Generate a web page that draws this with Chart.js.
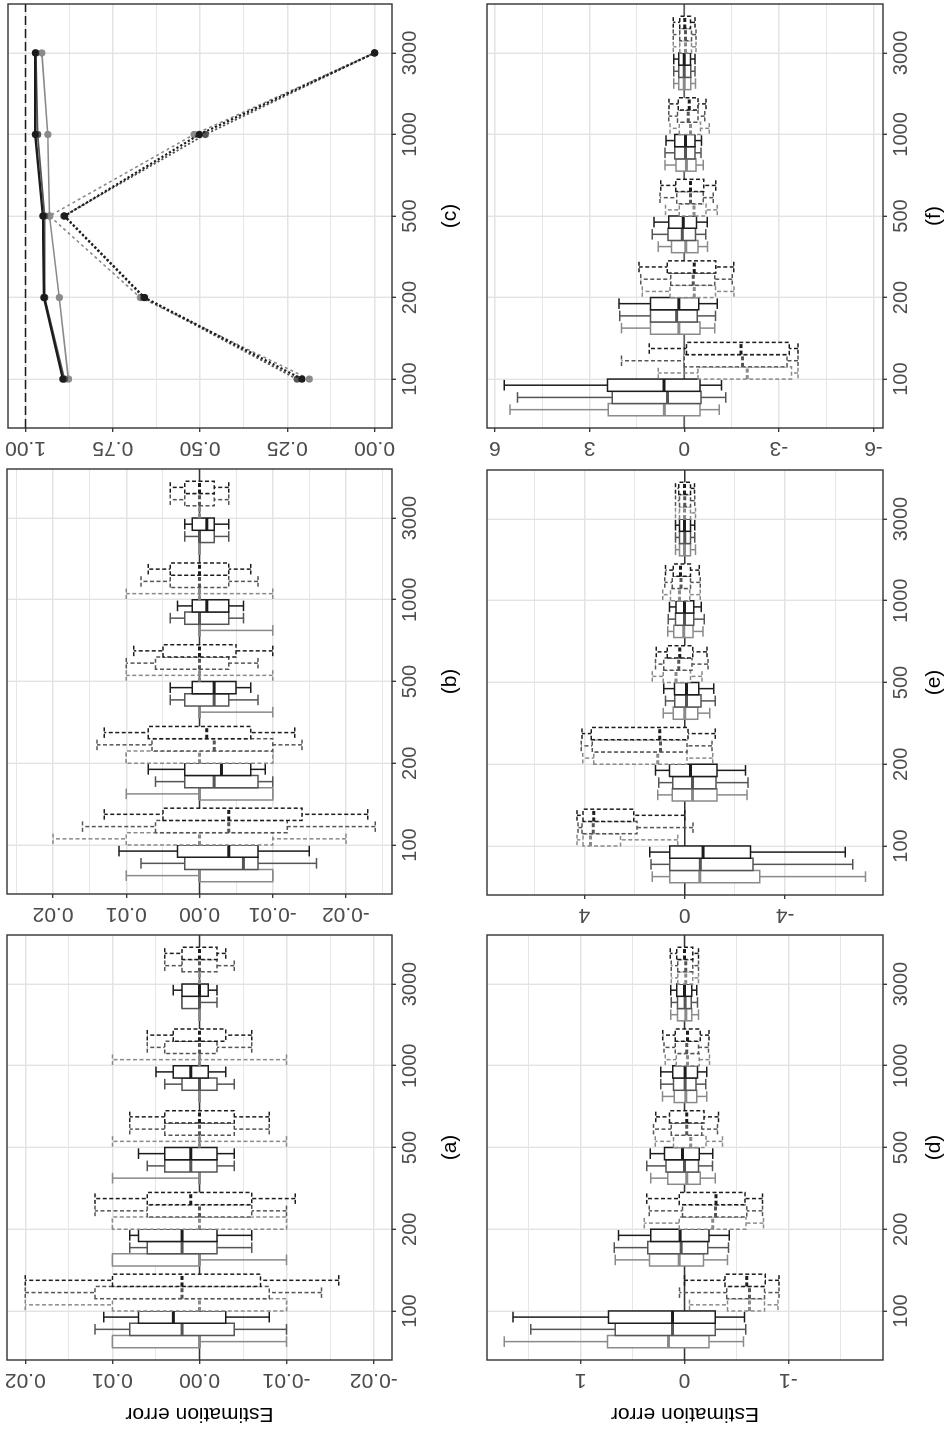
<!DOCTYPE html>
<html>
<head>
<meta charset="utf-8">
<script src="https://cdn.jsdelivr.net/npm/chart.js@4.4.1/dist/chart.umd.min.js"></script>
<style>
  html, body { margin: 0; padding: 0; background: #ffffff; overflow: hidden; }
  #fig {
    position: absolute; left: 0; top: 0; width: 1433px; height: 948px; background: #ffffff;
    transform-origin: 0 0; transform: translate(0, 1433px) rotate(-90deg);
  }
  .cell { position: absolute; }
  canvas { display: block; }
</style>
</head>
<body>
<div id="fig">
  <div class="cell" style="left:0px;top:0px"><canvas id="pa" width="500" height="475"></canvas></div>
  <div class="cell" style="left:500px;top:0px"><canvas id="pb" width="466" height="475"></canvas></div>
  <div class="cell" style="left:966px;top:0px"><canvas id="pc" width="467" height="475"></canvas></div>
  <div class="cell" style="left:0px;top:475px"><canvas id="pd" width="500" height="473"></canvas></div>
  <div class="cell" style="left:500px;top:475px"><canvas id="pe" width="466" height="473"></canvas></div>
  <div class="cell" style="left:966px;top:475px"><canvas id="pf" width="467" height="473"></canvas></div>
</div>
<script>
// ---------- sample sizes ----------
const categories = ['100', '200', '500', '1000', '3000'];

// ---------- box statistics: [lower whisker, Q1, median, Q3, upper whisker] per sample size ----------
// panel (a)
const aSolidLight = [[-0.010, 0, 0, 0.010, 0.010], [-0.010, 0, 0, 0.010, 0.010], [0, 0, 0, 0, 0.010], [0, 0, 0, 0, 0], [0, 0, 0, 0, 0]];
const aSolidMid   = [[-0.010, -0.004, 0.002, 0.008, 0.012], [-0.006, -0.002, 0.002, 0.006, 0.008], [-0.004, -0.002, 0.001, 0.004, 0.006], [-0.004, -0.002, 0, 0.002, 0.004], [-0.002, 0, 0, 0.002, 0.002]];
const aSolidBlack = [[-0.008, -0.003, 0.003, 0.007, 0.011], [-0.006, -0.002, 0.002, 0.007, 0.008], [-0.004, -0.002, 0.001, 0.004, 0.007], [-0.003, -0.001, 0.001, 0.003, 0.005], [-0.002, -0.001, 0, 0.002, 0.003]];
const aDashLight  = [[-0.010, -0.010, 0, 0.010, 0.020], [-0.010, -0.010, 0, 0.010, 0.010], [-0.010, 0, 0, 0, 0.010], [-0.010, 0, 0, 0, 0.010], [0, 0, 0, 0, 0]];
const aDashMid    = [[-0.014, -0.008, 0.002, 0.012, 0.020], [-0.010, -0.006, 0, 0.006, 0.012], [-0.008, -0.004, 0, 0.004, 0.008], [-0.006, -0.002, 0, 0.004, 0.006], [-0.004, -0.002, 0, 0.002, 0.004]];
const aDashBlack  = [[-0.016, -0.007, 0.002, 0.010, 0.020], [-0.011, -0.006, 0.001, 0.006, 0.012], [-0.008, -0.004, 0, 0.004, 0.008], [-0.006, -0.003, 0, 0.003, 0.006], [-0.003, -0.002, 0, 0.002, 0.004]];
// panel (b)
const bSolidLight = [[-0.010, -0.010, 0, 0, 0.010], [-0.010, -0.010, 0, 0, 0.010], [-0.010, 0, 0, 0, 0], [-0.010, 0, 0, 0, 0], [0, 0, 0, 0, 0]];
const bSolidMid   = [[-0.016, -0.008, -0.006, 0.002, 0.008], [-0.010, -0.008, -0.002, 0.002, 0.006], [-0.008, -0.004, -0.002, 0.002, 0.004], [-0.006, -0.004, 0, 0.002, 0.004], [-0.004, -0.002, 0, 0, 0.002]];
const bSolidBlack = [[-0.015, -0.008, -0.004, 0.003, 0.011], [-0.009, -0.007, -0.003, 0.002, 0.007], [-0.007, -0.005, -0.002, 0.001, 0.004], [-0.006, -0.004, -0.001, 0.001, 0.003], [-0.004, -0.002, -0.001, 0.001, 0.002]];
const bDashLight  = [[-0.020, -0.010, 0, 0.010, 0.020], [-0.010, -0.010, 0, 0.010, 0.010], [-0.010, 0, 0, 0, 0.010], [-0.010, 0, 0, 0, 0.010], [0, 0, 0, 0, 0]];
const bDashMid    = [[-0.024, -0.012, -0.004, 0.006, 0.016], [-0.014, -0.010, -0.002, 0.0065, 0.014], [-0.008, -0.004, 0, 0.006, 0.010], [-0.008, -0.004, 0, 0.004, 0.008], [-0.004, -0.002, 0, 0.002, 0.004]];
const bDashBlack  = [[-0.023, -0.014, -0.004, 0.005, 0.013], [-0.013, -0.007, -0.001, 0.007, 0.013], [-0.010, -0.005, 0, 0.005, 0.009], [-0.007, -0.004, 0, 0.004, 0.007], [-0.004, -0.002, 0, 0.002, 0.004]];
// panel (c): coverage-type proportions
const cSolidBlack = [0.893, 0.947, 0.950, 0.972, 0.972];
const cSolidMid   = [0.888, 0.945, 0.945, 0.965, 0.970];
const cSolidLight = [0.877, 0.903, 0.931, 0.936, 0.953];
const cDashBlack  = [0.208, 0.659, 0.888, 0.502, 0.000];
const cDashMid    = [0.222, 0.662, 0.890, 0.485, 0.000];
const cDashLight  = [0.187, 0.671, 0.931, 0.517, 0.000];
// panel (d)
const dSolidLight = [[-0.567, -0.237, 0.154, 0.740, 1.734], [-0.413, -0.183, 0.051, 0.337, 0.667], [-0.295, -0.151, -0.022, 0.160, 0.324], [-0.215, -0.119, -0.013, 0.099, 0.212], [-0.135, -0.071, -0.013, 0.067, 0.131]];
const dSolidMid   = [[-0.590, -0.295, 0.115, 0.667, 1.478], [-0.423, -0.224, 0.032, 0.353, 0.676], [-0.269, -0.135, 0.000, 0.179, 0.362], [-0.205, -0.112, -0.006, 0.106, 0.228], [-0.125, -0.064, -0.006, 0.067, 0.128]];
const dSolidBlack = [[-0.577, -0.295, 0.115, 0.731, 1.650], [-0.430, -0.237, 0.042, 0.324, 0.635], [-0.272, -0.141, 0.019, 0.192, 0.330], [-0.215, -0.125, -0.006, 0.112, 0.228], [-0.119, -0.070, 0.000, 0.074, 0.131]];
const dDashLight  = [[-0.900, -0.770, -0.625, -0.413, -0.048], [-0.760, -0.593, -0.272, 0.051, 0.388], [-0.365, -0.208, -0.061, 0.106, 0.282], [-0.240, -0.141, -0.029, 0.080, 0.186], [-0.135, -0.080, -0.013, 0.064, 0.128]];
const dDashMid    = [[-0.910, -0.770, -0.625, -0.407, 0.048], [-0.750, -0.600, -0.298, 0.019, 0.340], [-0.317, -0.167, -0.022, 0.128, 0.298], [-0.230, -0.135, -0.022, 0.090, 0.196], [-0.135, -0.080, -0.013, 0.064, 0.128]];
const dDashBlack  = [[-0.910, -0.776, -0.600, -0.391, 0.000], [-0.750, -0.583, -0.304, 0.051, 0.362], [-0.327, -0.189, -0.022, 0.144, 0.276], [-0.237, -0.151, -0.029, 0.090, 0.208], [-0.135, -0.080, 0.000, 0.074, 0.138]];
// panel (e)
const eSolidLight = [[-7.20, -2.99, -0.60, 0.60, 1.30], [-2.48, -1.29, -0.31, 0.50, 1.08], [-1.00, -0.52, 0.00, 0.46, 0.86], [-0.73, -0.33, 0.04, 0.44, 0.68], [-0.43, -0.23, 0.01, 0.21, 0.37]];
const eSolidMid   = [[-6.69, -2.72, -0.62, 0.60, 1.34], [-2.52, -1.25, -0.31, 0.48, 1.04], [-1.22, -0.65, -0.07, 0.40, 0.77], [-0.78, -0.36, 0.01, 0.37, 0.66], [-0.40, -0.23, 0.00, 0.21, 0.37]];
const eSolidBlack = [[-6.40, -2.62, -0.73, 0.60, 1.39], [-2.42, -1.29, -0.23, 0.61, 1.17], [-1.16, -0.56, -0.07, 0.41, 0.84], [-0.66, -0.36, 0.01, 0.35, 0.61], [-0.40, -0.23, 0.01, 0.21, 0.37]];
const eDashLight  = [[0.28, 2.56, 3.76, 4.05, 4.29], [-1.12, -0.09, 1.08, 3.63, 4.06], [-0.69, -0.23, 0.35, 0.86, 1.30], [-0.62, -0.20, 0.21, 0.57, 0.88], [-0.43, -0.23, 0.01, 0.21, 0.37]];
const eDashMid    = [[-0.33, 1.90, 3.65, 4.09, 4.25], [-1.09, -0.09, 0.97, 3.69, 4.12], [-0.93, -0.29, 0.24, 0.84, 1.17], [-0.62, -0.23, 0.15, 0.50, 0.80], [-0.40, -0.23, 0.00, 0.21, 0.37]];
const eDashBlack  = [[0.00, 2.03, 3.63, 4.05, 4.29], [-1.22, -0.13, 1.00, 3.73, 4.09], [-0.89, -0.32, 0.20, 0.70, 1.14], [-0.58, -0.23, 0.17, 0.46, 0.77], [-0.39, -0.23, 0.01, 0.24, 0.37]];
// panel (f)
const fSolidLight = [[-1.11, -0.50, 0.63, 2.41, 5.52], [-0.97, -0.50, 0.17, 1.07, 1.99], [-0.74, -0.44, -0.05, 0.40, 0.82], [-0.60, -0.37, -0.07, 0.26, 0.61], [-0.36, -0.21, 0.00, 0.17, 0.33]];
const fSolidMid   = [[-1.32, -0.53, 0.53, 2.28, 5.28], [-0.99, -0.41, 0.24, 1.07, 2.04], [-0.68, -0.36, 0.06, 0.51, 1.01], [-0.53, -0.34, -0.04, 0.30, 0.61], [-0.34, -0.21, 0.00, 0.17, 0.33]];
const fSolidBlack = [[-1.18, -0.50, 0.64, 2.43, 5.70], [-1.05, -0.46, 0.17, 1.07, 2.07], [-0.73, -0.39, 0.03, 0.49, 0.96], [-0.55, -0.34, -0.04, 0.30, 0.58], [-0.34, -0.20, 0.00, 0.17, 0.33]];
const fDashLight  = [[-3.61, -3.40, -2.00, -0.44, 0.82], [-1.58, -0.99, -0.32, 0.45, 1.33], [-1.05, -0.69, -0.31, 0.16, 0.59], [-0.79, -0.52, -0.20, 0.16, 0.45], [-0.37, -0.23, -0.04, 0.14, 0.35]];
const fDashMid    = [[-3.61, -3.26, -1.85, 0.00, 1.99], [-1.52, -0.97, -0.29, 0.43, 1.38], [-0.92, -0.60, -0.20, 0.24, 0.77], [-0.65, -0.44, -0.13, 0.21, 0.49], [-0.37, -0.23, -0.04, 0.14, 0.35]];
const fDashBlack  = [[-3.61, -3.33, -1.80, -0.07, 1.11], [-1.57, -1.00, -0.32, 0.54, 1.43], [-1.00, -0.62, -0.20, 0.27, 0.74], [-0.69, -0.44, -0.16, 0.19, 0.48], [-0.34, -0.20, -0.02, 0.14, 0.35]];

// ---------- value-axis ticks ----------
const ticksAB = [-0.02, -0.01, 0, 0.01, 0.02];
const labelsAB = ['-0.02', '-0.01', '0.00', '0.01', '0.02'];
const minorA = [-0.015, -0.005, 0.005, 0.015];
const minorB = [-0.025, -0.015, -0.005, 0.005, 0.015, 0.025];
const ticksC = [0, 0.25, 0.5, 0.75, 1];
const labelsC = ['0.00', '0.25', '0.50', '0.75', '1.00'];
const minorC = [0.125, 0.375, 0.625, 0.875];
const ticksD = [-1, 0, 1];
const labelsD = ['-1', '0', '1'];
const minorD = [-1.5, -0.5, 0.5, 1.5];
const ticksE = [-4, 0, 4];
const labelsE = ['-4', '0', '4'];
const minorE = [-6, -2, 2, 6];
const ticksF = [-6, -3, 0, 3, 6];
const labelsF = ['-6', '-3', '0', '3', '6'];
const minorF = [-4.5, -1.5, 1.5, 4.5];

// ---------- look ----------
const FONT = '"Liberation Sans", Arimo, Arial, sans-serif';
const TICK_TEXT = '#4d4d4d';
const FRAME = '#333333';
const GRID = '#e3e3e3';
const BLACK = '#1c1c1c';
const MID = '#555555';
const LIGHT = '#8a8a8a';
const SOLID = [];
const DASHED = [4, 2.5];
const BOX_W = 0.15;      // width of one dodged box (category units)
const CAP_W = 0.13;      // width of whisker end caps
const LABEL_GAP = 19.5;  // distance of rotated value labels from the panel edge

function boxSeries(sl, sm, sb, dl, dm, db) {
  return [
    { stats: sl, color: LIGHT, dash: SOLID },
    { stats: sm, color: MID, dash: SOLID },
    { stats: sb, color: BLACK, dash: SOLID },
    { stats: dl, color: LIGHT, dash: DASHED },
    { stats: dm, color: MID, dash: DASHED },
    { stats: db, color: BLACK, dash: DASHED }
  ];
}

// Draws the dodged box-and-whisker groups through the chart's own scales.
const boxPlugin = {
  id: 'boxplots',
  beforeDatasetsDraw(chart, args, opts) {
    const { ctx, chartArea: ca } = chart;
    const x = chart.scales.x, y = chart.scales.y;
    ctx.save();
    ctx.beginPath();
    ctx.rect(ca.left, ca.top, ca.right - ca.left, ca.bottom - ca.top);
    ctx.clip();
    if (opts.zeroLine) {
      const p0 = y.getPixelForValue(0);
      ctx.strokeStyle = FRAME; ctx.lineWidth = 1.3; ctx.setLineDash([]);
      ctx.beginPath(); ctx.moveTo(ca.left, p0); ctx.lineTo(ca.right, p0); ctx.stroke();
    }
    (opts.series || []).forEach((s, k) => {
      s.stats.forEach((st, i) => {
        const [lo, q1, med, q3, hi] = st;
        const xc = i + (k - 2.5) * BOX_W;
        const xl = x.getPixelForValue(xc - BOX_W / 2);
        const xr = x.getPixelForValue(xc + BOX_W / 2);
        const xm = x.getPixelForValue(xc);
        const cl = x.getPixelForValue(xc - CAP_W / 2);
        const cr = x.getPixelForValue(xc + CAP_W / 2);
        const pLo = y.getPixelForValue(lo), pHi = y.getPixelForValue(hi);
        const pQ1 = y.getPixelForValue(q1), pQ3 = y.getPixelForValue(q3);
        const pMed = y.getPixelForValue(med);
        ctx.strokeStyle = s.color;
        ctx.setLineDash(s.dash);
        ctx.lineWidth = 1.5;
        // whisker with end caps
        ctx.beginPath();
        ctx.moveTo(xm, pLo); ctx.lineTo(xm, pHi);
        ctx.moveTo(cl, pLo); ctx.lineTo(cr, pLo);
        ctx.moveTo(cl, pHi); ctx.lineTo(cr, pHi);
        ctx.stroke();
        // box
        ctx.fillStyle = '#ffffff';
        ctx.fillRect(xl, pQ3, xr - xl, pQ1 - pQ3);
        ctx.beginPath();
        ctx.rect(xl, pQ3, xr - xl, pQ1 - pQ3);
        ctx.stroke();
        // median
        ctx.lineWidth = 3;
        ctx.beginPath(); ctx.moveTo(xl, pMed); ctx.lineTo(xr, pMed); ctx.stroke();
      });
    });
    ctx.restore();
  }
};

// Rotated value-axis labels, taken from the y scale's own tick labels.
const yLabelPlugin = {
  id: 'yLabels',
  afterDraw(chart) {
    const { ctx, chartArea: ca } = chart;
    const y = chart.scales.y;
    ctx.save();
    ctx.fillStyle = TICK_TEXT;
    ctx.font = '21px ' + FONT;
    ctx.textAlign = 'center';
    ctx.textBaseline = 'middle';
    y.ticks.forEach(t => {
      if (!t.label) return;
      const py = y.getPixelForValue(t.value);
      ctx.save();
      ctx.translate(ca.left - LABEL_GAP, py);
      ctx.rotate(-Math.PI / 2);
      ctx.fillText(t.label, 0, 0);
      ctx.restore();
    });
    ctx.restore();
  }
};

// Panel frame.
const framePlugin = {
  id: 'frame',
  afterDraw(chart) {
    const { ctx, chartArea: ca } = chart;
    ctx.save();
    ctx.strokeStyle = FRAME; ctx.lineWidth = 1.4; ctx.setLineDash([]);
    ctx.strokeRect(ca.left, ca.top, ca.right - ca.left, ca.bottom - ca.top);
    ctx.restore();
  }
};

function makePanel(id, cfg) {
  const all = cfg.ticks.concat(cfg.minor);
  return new Chart(document.getElementById(id), {
    type: 'scatter',
    data: { datasets: cfg.datasets || [] },
    options: {
      responsive: false,
      animation: false,
      events: [],
      layout: { autoPadding: false, padding: { left: 0, top: cfg.top, right: cfg.right, bottom: 0 } },
      plugins: {
        legend: { display: false },
        tooltip: { enabled: false },
        boxplots: { series: cfg.series || null, zeroLine: !!cfg.series }
      },
      scales: {
        x: {
          type: 'linear', min: -0.6, max: 4.6,
          afterBuildTicks: s => { s.ticks = categories.map((c, i) => ({ value: i })); },
          afterFit: s => { s.height = cfg.xHeight; },
          ticks: {
            autoSkip: false, maxRotation: 0, padding: 2, color: TICK_TEXT,
            font: { family: FONT, size: 20 },
            callback: v => categories[v] !== undefined ? categories[v] : ''
          },
          grid: { color: GRID, lineWidth: 1.4, tickColor: FRAME, tickLength: 4, tickWidth: 1.3 },
          border: { display: false },
          title: {
            display: true, text: cfg.label, color: '#000000',
            font: { family: FONT, size: 21 }, padding: { top: 0, bottom: cfg.labelPad }
          }
        },
        y: {
          type: 'linear', min: cfg.yMin, max: cfg.yMax,
          afterBuildTicks: s => { s.ticks = all.map(v => ({ value: v })); },
          afterFit: s => { s.width = cfg.yWidth; },
          ticks: {
            display: false,
            callback: v => { const j = cfg.ticks.indexOf(v); return j >= 0 ? cfg.labels[j] : ''; }
          },
          grid: {
            color: GRID,
            lineWidth: c => (cfg.ticks.indexOf(c.tick && c.tick.value) >= 0 ? 1.4 : 0.9),
            tickColor: c => (cfg.ticks.indexOf(c.tick && c.tick.value) >= 0 ? FRAME : 'rgba(0,0,0,0)'),
            tickLength: 4, tickWidth: 1.3
          },
          border: { display: false },
          title: {
            display: !!cfg.yTitle, text: cfg.yTitle || '', color: '#000000',
            font: { family: FONT, size: 21 }, padding: { top: 6.4, bottom: 0 }
          }
        }
      }
    },
    plugins: [boxPlugin, yLabelPlugin, framePlugin]
  });
}

function lineSet(values, color, width, dash) {
  return {
    data: values.map((v, i) => ({ x: i, y: v })),
    showLine: true, borderColor: color, backgroundColor: color, borderWidth: width, borderDash: dash,
    pointRadius: 3.6, pointBorderWidth: 0, pointBackgroundColor: color
  };
}

const refLine = {
  data: [{ x: -0.6, y: 1 }, { x: 4.6, y: 1 }],
  showLine: true, borderColor: BLACK, borderWidth: 1.6, borderDash: [9, 4], pointRadius: 0
};

makePanel('pa', {
  label: '(a)', yTitle: 'Estimation error', top: 7, right: 2, yWidth: 73, xHeight: 83, labelPad: 12,
  yMin: -0.0221, yMax: 0.0221, ticks: ticksAB, labels: labelsAB, minor: minorA,
  series: boxSeries(aSolidLight, aSolidMid, aSolidBlack, aDashLight, aDashMid, aDashBlack)
});
makePanel('pb', {
  label: '(b)', top: 7, right: 2, yWidth: 39, xHeight: 83, labelPad: 12,
  yMin: -0.0263, yMax: 0.0263, ticks: ticksAB, labels: labelsAB, minor: minorB,
  series: boxSeries(bSolidLight, bSolidMid, bSolidBlack, bDashLight, bDashMid, bDashBlack)
});
makePanel('pc', {
  label: '(c)', top: 8, right: 4, yWidth: 39, xHeight: 83, labelPad: 12,
  yMin: -0.05, yMax: 1.05, ticks: ticksC, labels: labelsC, minor: minorC,
  datasets: [
    lineSet(cSolidBlack, BLACK, 2.4, []),
    lineSet(cSolidMid, MID, 1.6, []),
    lineSet(cSolidLight, LIGHT, 1.6, []),
    lineSet(cDashBlack, BLACK, 2.2, [2.2, 2.2]),
    lineSet(cDashMid, MID, 1.8, [2.2, 2.2]),
    lineSet(cDashLight, LIGHT, 1.6, [3, 3]),
    refLine
  ]
});
makePanel('pd', {
  label: '(d)', yTitle: 'Estimation error', top: 12, right: 2, yWidth: 73, xHeight: 65, labelPad: 1,
  yMin: -1.91, yMax: 1.90, ticks: ticksD, labels: labelsD, minor: minorD,
  series: boxSeries(dSolidLight, dSolidMid, dSolidBlack, dDashLight, dDashMid, dDashBlack)
});
makePanel('pe', {
  label: '(e)', top: 12, right: 3, yWidth: 38, xHeight: 65, labelPad: 1,
  yMin: -7.9, yMax: 7.88, ticks: ticksE, labels: labelsE, minor: minorE,
  series: boxSeries(eSolidLight, eSolidMid, eSolidBlack, eDashLight, eDashMid, eDashBlack)
});
makePanel('pf', {
  label: '(f)', top: 12, right: 4, yWidth: 39, xHeight: 65, labelPad: 1,
  yMin: -6.3, yMax: 6.25, ticks: ticksF, labels: labelsF, minor: minorF,
  series: boxSeries(fSolidLight, fSolidMid, fSolidBlack, fDashLight, fDashMid, fDashBlack)
});
</script>
</body>
</html>
